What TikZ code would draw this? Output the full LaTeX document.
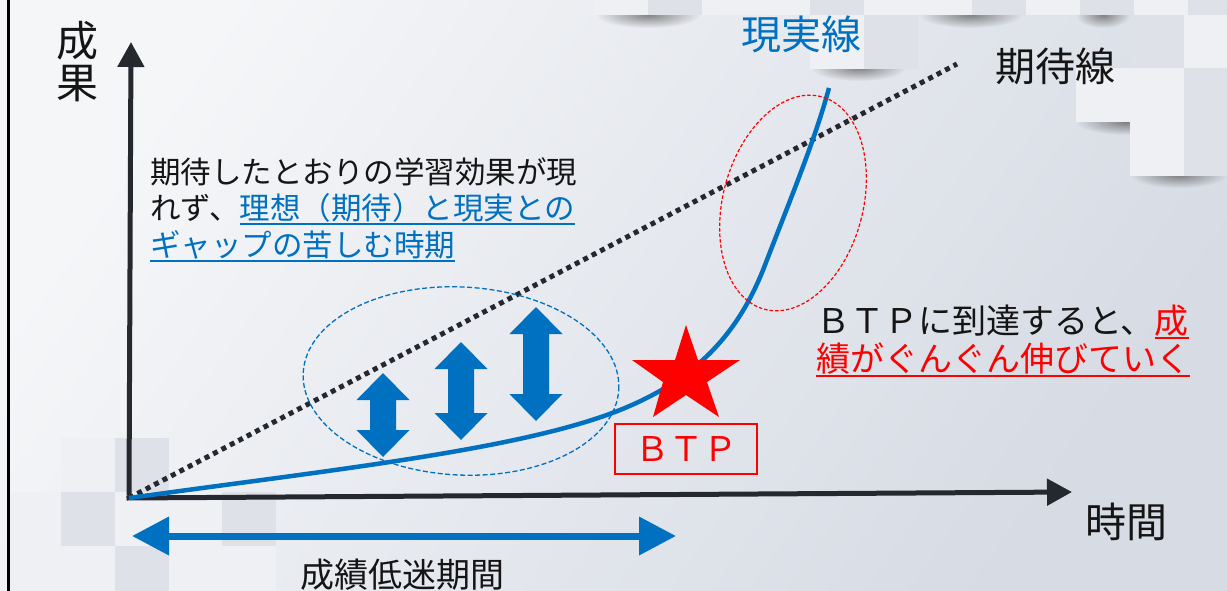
\documentclass[tikz,border=0pt]{standalone}
\usepackage{fontspec}
\newfontfamily\jp{Noto Sans CJK JP}
\usetikzlibrary{arrows.meta,fadings,shapes.geometric}
\definecolor{axisc}{HTML}{262830}
\definecolor{bl}{HTML}{0070C0}
\definecolor{bgA}{HTML}{F5F6F8}
\definecolor{bgB}{HTML}{D6DBE4}
\definecolor{sqL}{HTML}{EEF0F3}
\definecolor{sqD}{HTML}{DEE1E7}
\definecolor{txt}{HTML}{151515}
\tikzfading[name=shfade, inner color=transparent!35, outer color=transparent!100]
\newcommand\myul[2][-5pt]{\leavevmode\setbox0\hbox{#2}\rlap{\rule[#1]{\wd0}{1.8pt}}\box0}
\newcommand\shad[3]{\fill[black!70, path fading=shfade] ({(#1+#2)/2},#3) ellipse [x radius={(#2-#1)/2*1pt}, y radius=13pt];}
\newcommand\sqr[3]{\fill[#3] (#1,#2) rectangle ({#1+54},{#2+54});}
\newcommand\vdarr[3]{\fill[bl] (#1,#2) -- ({#1+26.5},{#2+27}) -- ({#1+13},{#2+27}) -- ({#1+13},{#3-27}) -- ({#1+26.5},{#3-27}) -- (#1,#3) -- ({#1-26.5},{#3-27}) -- ({#1-13},{#3-27}) -- ({#1-13},{#2+27}) -- ({#1-26.5},{#2+27}) -- cycle;}
\begin{document}
\begin{tikzpicture}[x=1pt,y=-1pt,
  lbl/.style={inner sep=0pt, text=txt},
  axisline/.style={line width=5pt, color=axisc, -{Triangle[length=25pt,width=26pt]}},
  dotline/.style={line width=5pt, color=axisc, dash pattern=on 5pt off 4.5pt},
  realline/.style={line width=4.5pt, color=bl},
  redell/.style={ellipse, draw=red, line width=1.2pt, dash pattern=on 3.5pt off 2pt, inner sep=0pt},
  blueell/.style={ellipse, draw=bl, line width=1.3pt, dash pattern=on 5pt off 2.5pt, inner sep=0pt}]
\useasboundingbox (0,0) rectangle (1227,590);
\clip (0,0) rectangle (1227,590);
\shade[top color=bgA, bottom color=bgB, shading angle=55] (0,0) rectangle (1227,590);
% decorative squares, top right
\shad{596}{700}{15}\shad{919}{1022}{15}\shad{1076}{1130}{15}
\shad{811}{906}{68}\shad{1130}{1227}{68}
\shad{1076}{1175}{122}\shad{1130}{1227}{175}
\sqr{594}{-39}{sqL}\sqr{648}{-39}{sqD}\sqr{702}{-39}{sqL}\sqr{756}{-39}{sqL}
\sqr{810}{-39}{sqD}\sqr{864}{-39}{sqL}\sqr{918}{-39}{sqL}\sqr{972}{-39}{sqD}
\sqr{1026}{-39}{sqL}\sqr{1080}{-39}{sqD}\sqr{1134}{-39}{sqL}\sqr{1188}{-39}{sqD}
\sqr{810}{15}{sqL}\sqr{864}{15}{sqD}\sqr{1130}{15}{sqD}\sqr{1184}{15}{sqL}
\sqr{1076}{68}{sqL}\sqr{1130}{68}{sqL}\sqr{1184}{68}{sqD}
\sqr{1130}{122}{sqL}\sqr{1184}{122}{sqD}
% decorative squares, bottom left
\shad{61}{115}{492}\shad{10}{115}{546}\shad{169}{276}{546}
\sqr{61}{438}{sqL}\sqr{115}{438}{sqD}
\sqr{10}{492}{sqL}\sqr{61}{492}{sqD}\sqr{115}{492}{sqL}\sqr{169}{492}{sqL}\sqr{222}{492}{sqD}
\sqr{10}{546}{sqL}\sqr{61}{546}{sqL}\sqr{115}{546}{sqD}\sqr{169}{546}{sqL}\sqr{222}{546}{sqL}
% left border
\draw[line width=2.6pt, black] (8.5,-2) -- (8.5,592);
% axes
\coordinate (O) at (129,498);
\coordinate (Ytip) at (131,42);
\coordinate (Xtip) at (1072,492);
\coordinate (Kend) at (957,64);
\draw[dotline] (O) -- (Kend);
\draw[axisline] ([yshift=2.5pt]O) -- (Ytip);
\draw[axisline] ([xshift=-2.5pt]O) -- (Xtip);
% real line
\coordinate (Rend) at (829,88);
\draw[realline] (O) .. controls (330,470) and (520,450) .. (620,410)
  .. controls (700,378) and (740,330) .. (765,265)
  .. controls (790,200) and (815,140) .. (Rend);
% ellipses
\node[redell, minimum width=140pt, minimum height=220pt, rotate=-15] (rell) at (793,203) {};
\node[blueell, minimum width=316pt, minimum height=188pt, rotate=-3] (bell) at (461,381) {};
% gap arrows
\vdarr{383}{373}{457}
\vdarr{461}{342}{440}
\vdarr{536}{307}{421}
% star
\fill[red] (686,325) -- (698,360) -- (740,360) -- (707,382) -- (719,417) -- (686,395) -- (653,417) -- (663,382) -- (632,360) -- (675,360) -- cycle;
\coordinate (star) at (686,376);
% BTP box
\node[draw=red, line width=2pt, minimum width=142pt, minimum height=50pt, inner sep=0pt, text=red, font=\jp\fontsize{34}{34}\selectfont] (btp) at (686,449) {ＢＴＰ};
% low period arrow
\coordinate (lowL) at (132,536);
\coordinate (lowR) at (676,536);
\draw[bl, line width=7pt, {Triangle[length=37pt,width=37pt]}-{Triangle[length=37pt,width=37pt]}] (lowL) -- (lowR);
% labels
\node[lbl, font=\jp\fontsize{42}{42}\selectfont, align=center] (seika) at (77,62) {成\\果};
\node[lbl, font=\jp\fontsize{41}{41}\selectfont] (jikan) at (1126,522) {時間};
\node[lbl, text=bl, font=\jp\fontsize{40}{40}\selectfont] (genjitsu) at (801,34) {現実線};
\node[lbl, font=\jp\fontsize{40}{40}\selectfont] (kitai) at (1055,66) {期待線};
\node[lbl, font=\jp\fontsize{34}{34}\selectfont] (teimei) at (402,575) {成績低迷期間};
\node[lbl, anchor=base west, font=\jp\fontsize{30.5}{30.5}\selectfont] (l1) at (150,183) {期待したとおりの学習効果が現};
\node[lbl, anchor=base west, font=\jp\fontsize{30.5}{30.5}\selectfont] (l2) at (150,219.5) {れず、{\color{bl}\myul{理想（期待）と現実との}}};
\node[lbl, anchor=base west, font=\jp\fontsize{30.5}{30.5}\selectfont] (l3) at (150,256.5) {\color{bl}\myul{ギャップの苦しむ時期}};
\node[lbl, anchor=base west, font=\jp\fontsize{34}{34}\selectfont] (r1) at (816,333) {ＢＴＰに到達すると、{\color{red}\myul[-5.5pt]{成}}};
\node[lbl, anchor=base west, font=\jp\fontsize{34}{34}\selectfont] (r2) at (816,371) {\color{red}\myul[-5.5pt]{績がぐんぐん伸びていく}};
\end{tikzpicture}
\end{document}
